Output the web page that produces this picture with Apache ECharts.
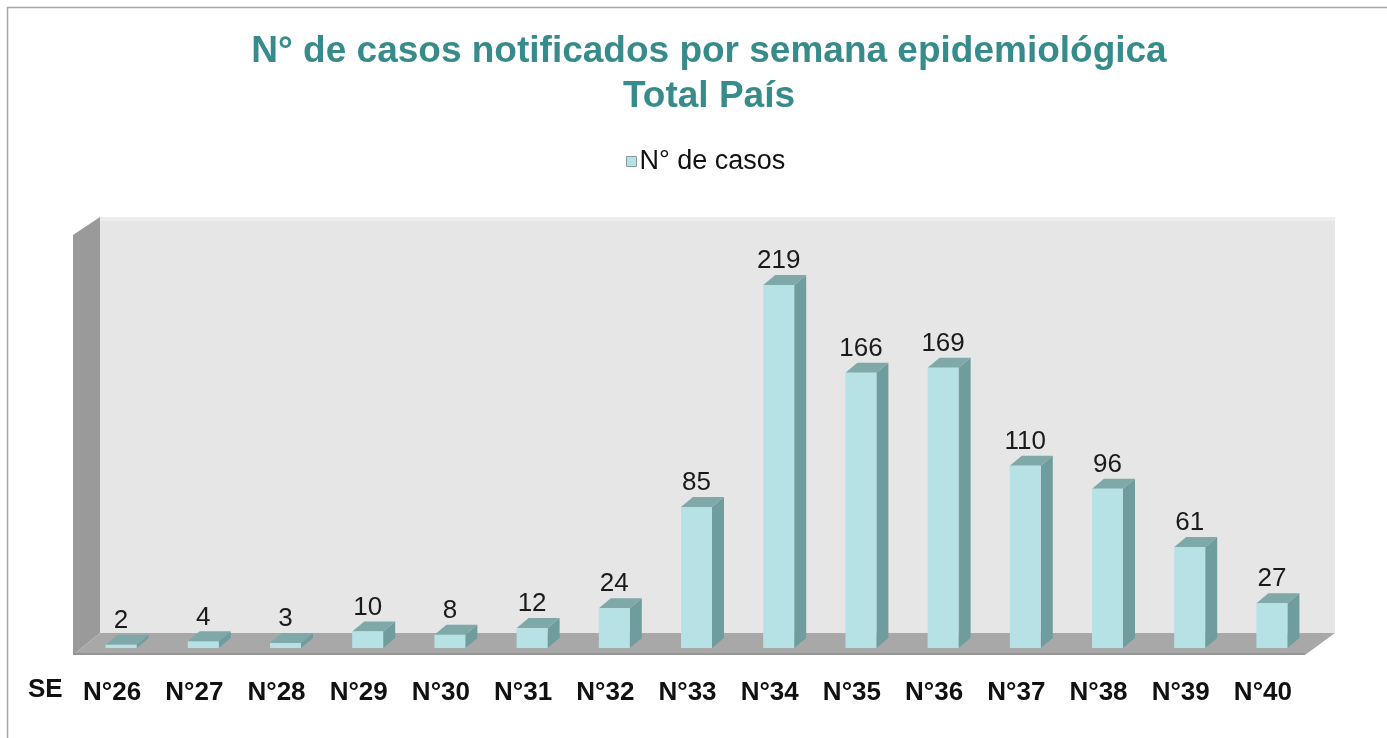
<!DOCTYPE html>
<html><head><meta charset="utf-8">
<script src="https://cdn.jsdelivr.net/npm/echarts@6/dist/echarts.min.js"></script>
<style>html,body{margin:0;padding:0;background:#fff}#c{width:1387px;height:738px}</style>
</head><body><div id="c"></div>
<script>
var categories = ['N°26','N°27','N°28','N°29','N°30','N°31','N°32','N°33','N°34','N°35','N°36','N°37','N°38','N°39','N°40'];
var casos = [2,4,3,10,8,12,24,85,219,166,169,110,96,61,27];
var seriesName = 'N° de casos';
var titleText = 'N° de casos notificados por semana epidemiológica\nTotal País';

var DX = 12, DY = 10, HALF = 15.5;
var FONT = '"Liberation Sans", Arial, sans-serif';
var chart = echarts.init(document.getElementById('c'));

function renderWalls(params, api) {
  var cs = params.coordSys;
  var x0 = cs.x, y0 = cs.y, x1 = cs.x + cs.width, yb = cs.y + cs.height;
  var backL = x0 + 20, backR = x1 + 22, backB = yb - 15;
  var frontL = x0 - 7, frontR = x1 - 8, frontB = yb + 7;
  return {
    type: 'group',
    children: [
      {type: 'rect', shape: {x: backL, y: y0, width: backR - backL, height: backB - y0},
       style: {fill: '#e6e6e6'}},
      {type: 'rect', shape: {x: backL, y: y0, width: backR - backL, height: 4},
       style: {fill: '#ededed'}},
      {type: 'polygon', shape: {points: [[frontL, y0 + 18], [backL, y0], [backL, backB], [frontL, frontB]]},
       style: {fill: '#9a9a9a'}},
      {type: 'polygon', shape: {points: [[backL, backB], [backR, backB], [frontR, frontB], [frontL, frontB]]},
       style: {fill: '#a8a8a8'}},
      {type: 'rect', shape: {x: frontL, y: frontB - 2, width: frontR - frontL, height: 2},
       style: {fill: '#959595'}}
    ]
  };
}

function renderBar(params, api) {
  var c = api.coord([api.value(0), api.value(1)]);
  var z = api.coord([api.value(0), 0]);
  var l = c[0] - HALF, r = c[0] + HALF, t = c[1], b = z[1];
  return {
    type: 'group',
    children: [
      {type: 'polygon', shape: {points: [[r, t], [r + DX, t - DY], [r + DX, b - DY], [r, b]]},
       style: {fill: '#6f9d9d'}},
      {type: 'polygon', shape: {points: [[l, t], [l + DX, t - DY], [r + DX, t - DY], [r, t]]},
       style: {fill: '#7ea9a8'}},
      {type: 'rect', shape: {x: l, y: t, width: r - l, height: b - t},
       style: {fill: '#b6e1e5'}},
      {type: 'text', x: c[0], y: t - DY - 1,
       style: {text: String(api.value(1)), fill: '#1a1a1a', font: '26px ' + FONT,
               align: 'center', verticalAlign: 'bottom'}}
    ]
  };
}

chart.setOption({
  animation: false,
  backgroundColor: '#ffffff',
  title: {
    text: titleText, left: 704, textAlign: 'center', top: 24,
    textStyle: {fontFamily: FONT, fontWeight: 'bold', fontSize: 37, color: '#378b8b', lineHeight: 45}
  },
  legend: {
    top: 143, left: 621, data: [seriesName], icon: 'rect', itemWidth: 10, itemHeight: 10, itemGap: 6,
    itemStyle: {borderColor: '#8a9a9a', borderWidth: 1, color: '#b6e1e5'},
    textStyle: {fontFamily: FONT, fontSize: 27, color: '#111', padding: [0, 0, 0, -2]}
  },
  grid: {left: 80, right: 74, top: 217, bottom: 90, containLabel: false},
  xAxis: {
    type: 'category', data: categories,
    axisLine: {show: false}, axisTick: {show: false},
    axisLabel: {margin: 32, padding: [0, 18, 0, 0], color: '#111', fontWeight: 'bold', fontSize: 26,
                fontFamily: FONT, interval: 0}
  },
  yAxis: {type: 'value', min: 0, max: 260, show: false, splitLine: {show: false}},
  graphic: [
    {type: 'rect', shape: {x: 7.5, y: 7.5, width: 1400, height: 760}, style: {fill: 'none', stroke: '#a6a6a6', lineWidth: 1.5}, silent: true, z: 100},
    {type: 'text', left: 28, top: 677, style: {text: 'SE', font: 'bold 26px ' + FONT, fill: '#111'}}
  ],
  series: [
    {type: 'custom', name: 'walls', renderItem: renderWalls, data: [[0, 0]], z: 1, silent: true},
    {type: 'custom', name: seriesName, renderItem: renderBar, z: 2,
     itemStyle: {color: '#b6e1e5'},
     encode: {x: 0, y: 1},
     data: categories.map(function (c, i) { return [i, casos[i]]; })}
  ]
});
</script></body></html>
